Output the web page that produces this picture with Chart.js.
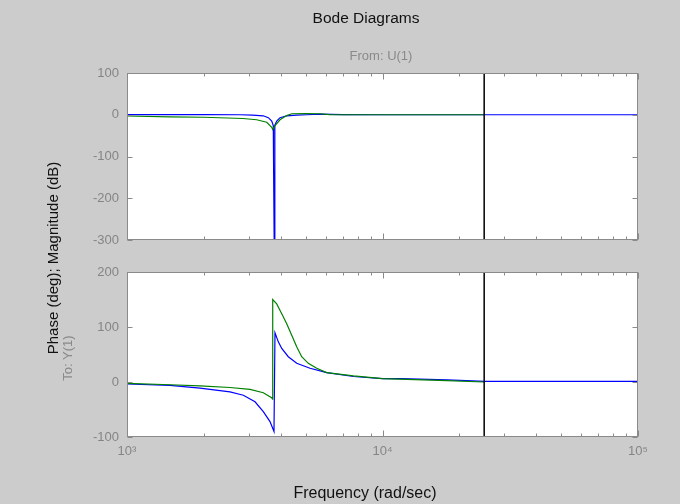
<!DOCTYPE html>
<html>
<head>
<meta charset="utf-8">
<title>Bode Diagrams</title>
<script src="https://cdn.jsdelivr.net/npm/chart.js@4.4.0/dist/chart.umd.min.js"></script>
<style>
    html, body { margin: 0; padding: 0; background: #cccccc; }
    #fig {
        position: relative; width: 680px; height: 504px; overflow: hidden;
        background: #cccccc; font-family: "Liberation Sans", Arial, sans-serif;
    }
    #fig canvas { position: absolute; left: 0; top: 0; }
    .txt { position: absolute; white-space: nowrap; transform: translate(-50%, -50%); }
    .title  { left: 366px; top: 18px;  font-size: 15.5px; color: #111; }
    .from   { left: 381px; top: 55px;  font-size: 13px; color: #8a8a8a; }
    .xlabel { left: 365px; top: 493px; font-size: 16px; color: #111; }
    .ylabel { left: 52px;  top: 258px; font-size: 15px; color: #111; transform: translate(-50%, -50%) rotate(-90deg); }
    .to     { left: 67px;  top: 358px; font-size: 13px; color: #8a8a8a; transform: translate(-50%, -50%) rotate(-90deg); }
</style>
</head>
<body>
<div id="fig">
    <canvas id="magChart" width="680" height="504"></canvas>
    <canvas id="phaseChart" width="680" height="504"></canvas>
    <div class="txt title">Bode Diagrams</div>
    <div class="txt from">From: U(1)</div>
    <div class="txt ylabel">Phase (deg); Magnitude (dB)</div>
    <div class="txt to">To: Y(1)</div>
    <div class="txt xlabel">Frequency (rad/sec)</div>
</div>
<script>
/* ============================
   Data
   ============================ */

// magnitude (dB), continuous system (blue)
const freqMagBlue = [1000, 2000, 2770, 3100, 3416, 3573, 3685, 3737, 3745, 3770, 3790, 3854, 3971, 4218, 4615, 5050, 5691, 7000, 10000, 100000];
const magBlue     = [0.5, 0.5, 0, -1, -2.5, -7, -15, -26, -105, -330, -25, -15, -7, -2.5, -1, 0, 1.5, 0.5, 0, 0];

// magnitude (dB), discrete system (green), stops at Nyquist
const freqMagGreen = [1000, 1473, 2000, 2840, 3218, 3523, 3685, 3717, 3795, 3971, 4218, 4413, 5000, 5691, 6200, 10000, 25000];
const magGreen     = [-3, -5, -6, -9, -12, -18, -30, -35, -26, -12, -2, 2.4, 2.6, 2.4, 0.5, 0, 0];

// phase (deg), blue
const freqPhaseBlue = [1000, 1473, 1930, 2530, 2853, 3170, 3416, 3628, 3761, 3795, 3910, 4033, 4279, 4615, 5204, 6047, 7700, 10000, 11800, 17900, 25200, 100000];
const phaseBlue     = [-3.6, -6, -11, -18, -24, -36, -54, -72, -90, 89.6, 73, 61, 46, 34, 25, 17, 10, 6, 6, 4, 1.3, 1];

// phase (deg), green
const freqPhaseGreen = [1000, 1473, 1930, 2530, 3030, 3416, 3682, 3712, 3718, 3854, 4033, 4218, 4413, 4615, 4828, 5124, 5527, 6047, 7700, 10000, 17900, 25000];
const phaseGreen     = [-2.5, -5, -7, -10, -13.3, -19.5, -28.5, -31, 150, 142, 124, 106, 85, 64, 46, 34, 25, 17, 11, 6, 2.4, 0];

const nyquistFreq = 25000;

// axes
const magTicks = [100, 0, -100, -200, -300];
const phaseTicks = [200, 100, 0, -100];
const freqMajor = [1e3, 1e4, 1e5];
const freqLabels = ['10³', '10⁴', '10⁵'];
const freqMinor = [2e3, 3e3, 4e3, 5e3, 6e3, 7e3, 8e3, 9e3, 2e4, 3e4, 4e4, 5e4, 6e4, 7e4, 8e4, 9e4];

/* ============================
   Helpers
   ============================ */

const BLUE = '#0000ff';
const GREEN = '#008000';
const FRAME = '#8a8a8a';
const LABEL = '#858585';

const pts = (xs, ys) => xs.map((x, i) => ({ x, y: ys[i] }));

// white axes box, grey frame and MATLAB style inward ticks
const framePlugin = {
    id: 'frame',
    beforeDatasetsDraw(chart) {
        const a = chart.chartArea;
        const ctx = chart.ctx;
        ctx.save();
        ctx.fillStyle = '#ffffff';
        ctx.fillRect(a.left, a.top, a.width, a.height);
        ctx.restore();
    },
    afterDraw(chart, args, opts) {
        const a = chart.chartArea;
        const ctx = chart.ctx;
        const xs = chart.scales.x;
        const ys = chart.scales.y;
        const L = Math.round(a.left) + 0.5, R = Math.round(a.right) - 0.5;
        const T = Math.round(a.top) + 0.5, B = Math.round(a.bottom) - 0.5;

        ctx.save();
        ctx.strokeStyle = FRAME;
        ctx.lineWidth = 1;
        ctx.beginPath();

        opts.yTicks.forEach(v => {
            const py = Math.round(ys.getPixelForValue(v)) + 0.5;
            ctx.moveTo(L, py); ctx.lineTo(L + 5, py);
            ctx.moveTo(R, py); ctx.lineTo(R - 5, py);
        });

        const xTick = (v, len) => {
            const px = Math.round(xs.getPixelForValue(v)) + 0.5;
            ctx.moveTo(px, T); ctx.lineTo(px, T + len);
            ctx.moveTo(px, B); ctx.lineTo(px, B - len);
        };
        freqMajor.forEach(v => xTick(v, 6));
        freqMinor.forEach(v => xTick(v, 3));
        ctx.stroke();

        ctx.strokeRect(L, T, R - L, B - T);
        ctx.restore();
    }
};

function lineSet(data, color, width) {
    return {
        data,
        borderColor: color,
        borderWidth: width,
        pointRadius: 0,
        fill: false,
        tension: 0,
        showLine: true
    };
}

function makeAxes(canvasId, cfg) {
    const { yTicks, series, showXLabels, padding } = cfg;
    const yMin = Math.min(...yTicks);
    const yMax = Math.max(...yTicks);

    return new Chart(document.getElementById(canvasId), {
        type: 'scatter',
        data: {
            datasets: [
                lineSet(pts([nyquistFreq, nyquistFreq], [yMax, yMin]), '#000000', 1.5),
                lineSet(pts(series.freqGreen, series.green), GREEN, 1.2),
                lineSet(pts(series.freqBlue, series.blue), BLUE, 1.2)
            ]
        },
        options: {
            responsive: false,
            animation: false,
            devicePixelRatio: 1,
            layout: { padding },
            plugins: {
                legend: { display: false },
                tooltip: { enabled: false },
                frame: { yTicks }
            },
            events: [],
            scales: {
                x: {
                    type: 'logarithmic',
                    min: 1e3,
                    max: 1e5,
                    display: showXLabels,
                    grid: { display: false, drawTicks: false },
                    border: { display: false },
                    afterBuildTicks: s => { s.ticks = freqMajor.map(v => ({ value: v, major: true })); },
                    afterFit: s => { s.height = showXLabels ? 30 : 0; },
                    ticks: {
                        autoSkip: false,
                        maxRotation: 0,
                        padding: 7,
                        color: LABEL,
                        font: { family: '"Liberation Sans", Arial, sans-serif', size: 13 },
                        callback: v => freqLabels[freqMajor.indexOf(v)] || ''
                    }
                },
                y: {
                    type: 'linear',
                    min: yMin,
                    max: yMax,
                    grid: { display: false, drawTicks: false },
                    border: { display: false },
                    afterBuildTicks: s => { s.ticks = yTicks.map(v => ({ value: v })); },
                    afterFit: s => { s.width = 60; },
                    ticks: {
                        padding: 8,
                        color: LABEL,
                        font: { family: '"Liberation Sans", Arial, sans-serif', size: 13 },
                        callback: v => String(v)
                    }
                }
            }
        },
        plugins: [framePlugin]
    });
}

/* ============================
   Charts
   ============================ */

// magnitude: axes box 127..638 x 73..240
makeAxes('magChart', {
    yTicks: magTicks,
    showXLabels: false,
    padding: { left: 67, top: 73, right: 42, bottom: 264 },
    series: { freqBlue: freqMagBlue, blue: magBlue, freqGreen: freqMagGreen, green: magGreen }
});

// phase: axes box 127..638 x 272..437
makeAxes('phaseChart', {
    yTicks: phaseTicks,
    showXLabels: true,
    padding: { left: 67, top: 272, right: 42, bottom: 37 },
    series: { freqBlue: freqPhaseBlue, blue: phaseBlue, freqGreen: freqPhaseGreen, green: phaseGreen }
});
</script>
</body>
</html>
